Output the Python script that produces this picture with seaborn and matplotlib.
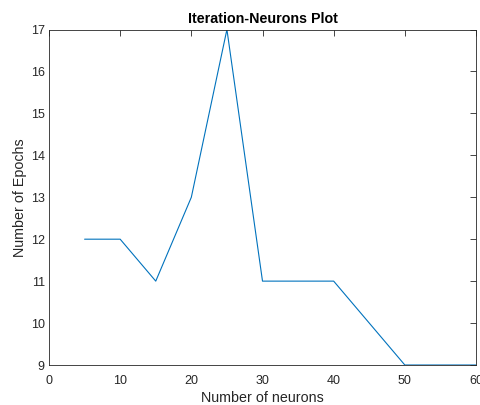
import matplotlib
matplotlib.use("Agg")
import matplotlib.pyplot as plt
import seaborn as sns
import pandas as pd

neurons = [5, 10, 15, 20, 25, 30, 35, 40, 45, 50, 55, 60]
epochs = [12, 12, 11, 13, 17, 11, 11, 11, 10, 9, 9, 9]
x_ticks = [0, 10, 20, 30, 40, 50, 60]
y_ticks = [9, 10, 11, 12, 13, 14, 15, 16, 17]

sns.set_style("white")
plt.rcParams['font.family'] = ['Liberation Sans', 'DejaVu Sans']

df = pd.DataFrame({"neurons": neurons, "epochs": epochs})

fig = plt.figure(figsize=(4.8, 4.05), dpi=100)
ax = fig.add_axes([49/480, 1-365/405, (476-49)/480, (365-29.5)/405])
sns.lineplot(data=df, x="neurons", y="epochs", ax=ax, color="#0072BD", linewidth=0.8)

ax.set_xlim(0, 60)
ax.set_ylim(9, 17)
ax.set_xticks(x_ticks)
ax.set_yticks(y_ticks)
ax.tick_params(direction="in", length=4, width=0.6, colors="#262626", labelsize=9,
               top=True, right=True, labeltop=False, labelright=False)
ax.tick_params(axis="x", pad=7)
ax.tick_params(axis="y", pad=3)
for s in ax.spines.values():
    s.set_visible(True)
    s.set_color("#262626")
    s.set_linewidth(0.6)
ax.set_xlabel("Number of neurons", fontsize=10.3, color="#262626", labelpad=3)
ax.set_ylabel("Number of Epochs", fontsize=10.3, color="#262626", labelpad=3)
ax.set_title("Iteration-Neurons Plot", fontsize=10.3, fontweight="bold", color="black", pad=5)

fig.savefig("out.png", dpi=100)
